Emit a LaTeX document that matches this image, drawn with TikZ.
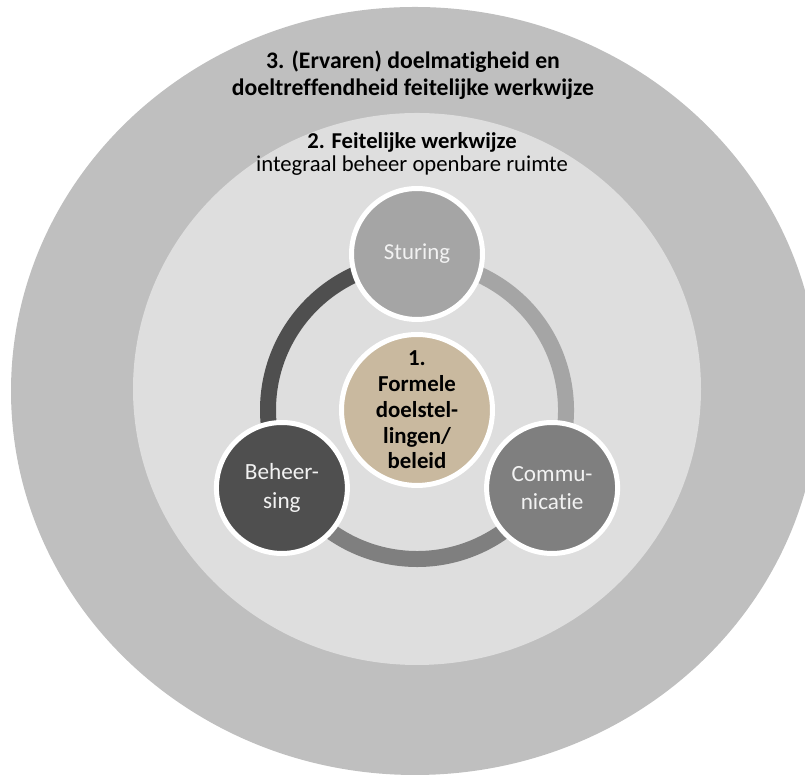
\documentclass[tikz,border=0pt]{standalone}
\usepackage{fontspec}
\setmainfont{Carlito}[RawFeature={-liga}]
\usepackage{tikz}
\usetikzlibrary{calc}
\usepackage{xcolor}
\definecolor{buiten}{HTML}{BFBFBF}
\definecolor{midden}{HTML}{DEDEDE}
\definecolor{sturkl}{HTML}{A5A5A5}
\definecolor{beheerkl}{HTML}{4F4F4F}
\definecolor{commkl}{HTML}{7F7F7F}
\definecolor{kernkl}{HTML}{C9B99F}

\begin{document}
\begin{tikzpicture}[x=0.02cm, y=0.02cm,
  bol/.style={circle, draw=white, line width=0.1cm, minimum size=2.62cm,
    inner sep=0pt, align=center, text=white!95!black,
    font=\fontsize{13.2pt}{16pt}\selectfont},
  boog/.style={line width=0.32cm},
  kop/.style={align=center, font=\fontsize{13.5pt}{15.3pt}\selectfont}]
\useasboundingbox (0,0) rectangle (805,776);
\clip (0,0) rectangle (805,776);
% ringen
\fill[buiten] (415,385) ellipse [x radius=404, y radius=384];
\fill[midden] (417,387) ellipse [x radius=284, y radius=276];
\node[kop] (niveau3) at (413,701) {\bfseries 3. (Ervaren) doelmatigheid en\\
  \bfseries doeltreffendheid feitelijke werkwijze};
\node[kop, font=\fontsize{12.9pt}{13pt}\selectfont] (niveau2) at (412,622)
  {\bfseries 2. Feitelijke werkwijze\\integraal beheer openbare ruimte};
% cirkel
\coordinate (ctr) at (417,366);
\draw[boog, beheerkl] (ctr) ++(90:149) arc [start angle=90, end angle=210, radius=149];
\draw[boog, commkl] (ctr) ++(210:149) arc [start angle=210, end angle=330, radius=149];
\draw[boog, sturkl] (ctr) ++(-30:149) arc [start angle=-30, end angle=90, radius=149];
% onderdelen
\node[bol, fill=sturkl, font=\fontsize{13pt}{15pt}\selectfont] (sturing) at ($(ctr)+(90:156)$) {Sturing};
\node[bol, fill=beheerkl] (beheersing) at ($(ctr)+(210:156)$) {Beheer-\\sing};
\node[bol, fill=commkl] (communicatie) at ($(ctr)+(330:156)$) {Commu-\\nicatie};
\node[bol, fill=kernkl, minimum size=3.02cm, text=black,
  font=\fontsize{13pt}{14.7pt}\selectfont\bfseries] (kern) at (ctr)
  {1.\\Formele\\doelstel-\\lingen/\\beleid};
\end{tikzpicture}
\end{document}
